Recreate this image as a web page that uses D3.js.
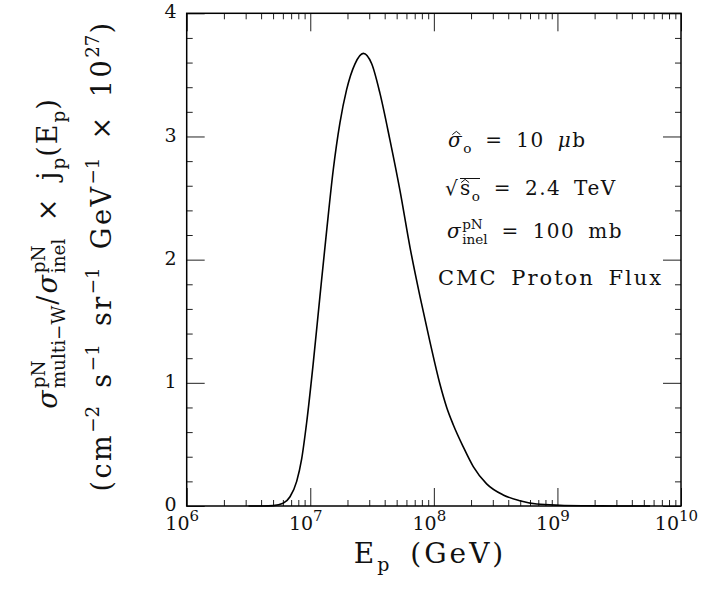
<!DOCTYPE html>
<html>
<head>
<meta charset="utf-8">
<script src="https://cdn.jsdelivr.net/npm/d3@7"></script>
<style>
  body { margin: 0; background: #fff; }
  svg { display: block; font-family: 'DejaVu Serif', serif; }
  text { white-space: pre; }
</style>
</head>
<body>
<div id="chart"></div>
<script>
// proton energy, log10(E/GeV)
const logEnergy = [6.50, 6.62, 6.70, 6.78, 6.836, 6.89, 6.93, 6.971, 7.024, 7.078, 7.133, 7.186,
  7.24, 7.294, 7.362, 7.429, 7.497, 7.564, 7.645, 7.726, 7.807, 7.888, 7.969, 8.049,
  8.104, 8.157, 8.238, 8.319, 8.427, 8.561, 8.696, 8.832, 9.02, 9.236, 9.449, 9.75];
// sigma_multi-W / sigma_inel x j_p(E_p), units of 1e-27
const flux = [0, 0, 0.003, 0.022, 0.075, 0.20, 0.38, 0.68, 1.16, 1.70, 2.24, 2.73,
  3.11, 3.38, 3.59, 3.675, 3.59, 3.35, 2.97, 2.56, 2.10, 1.70, 1.33, 0.99,
  0.80, 0.66, 0.48, 0.32, 0.18, 0.09, 0.043, 0.016, 0.006, 0.002, 0.0005, 0];

const xDecades = [1e6, 1e7, 1e8, 1e9, 1e10];
const yMajor = [0, 1, 2, 3, 4];

const W = 707, H = 600;
const margin = { left: 186.7, top: 13.3, right: 26, bottom: 94 };
const width = W - margin.left - margin.right;
const height = H - margin.top - margin.bottom;

const svg = d3.select('#chart').append('svg').attr('width', W).attr('height', H);
const g = svg.append('g').attr('transform', `translate(${margin.left},${margin.top})`);

const x = d3.scaleLog().domain([1e6, 1e10]).range([0, width]);
const y = d3.scaleLinear().domain([0, 4]).range([height, 0]);

const xMinor = [];
xDecades.slice(0, -1).forEach(d => { for (let k = 2; k <= 9; k++) xMinor.push(d * k); });
const yMinor = d3.range(0, 4.01, 0.2).filter(v => Math.abs(v - Math.round(v)) > 1e-6);

function styleAxis(sel) {
  sel.select('.domain').remove();
  sel.selectAll('line').attr('stroke', '#222').attr('stroke-width', 1);
}

// inward ticks on all four sides
g.append('g').attr('transform', `translate(0,${height})`)
  .call(d3.axisBottom(x).tickValues(xMinor).tickSize(-6).tickFormat('')).call(styleAxis);
g.append('g').call(d3.axisTop(x).tickValues(xMinor).tickSize(-6).tickFormat('')).call(styleAxis);
g.append('g').call(d3.axisTop(x).tickValues(xDecades).tickSize(-18).tickFormat('')).call(styleAxis);
const xMajAxis = g.append('g').attr('transform', `translate(0,${height})`)
  .call(d3.axisBottom(x).tickValues(xDecades).tickSize(-18).tickFormat(''))
  .call(styleAxis);

g.append('g').call(d3.axisLeft(y).tickValues(yMinor).tickSize(-6).tickFormat('')).call(styleAxis);
g.append('g').attr('transform', `translate(${width},0)`)
  .call(d3.axisRight(y).tickValues(yMinor).tickSize(-6).tickFormat('')).call(styleAxis);
g.append('g').attr('transform', `translate(${width},0)`)
  .call(d3.axisRight(y).tickValues(yMajor).tickSize(-18).tickFormat('')).call(styleAxis);
g.append('g')
  .call(d3.axisLeft(y).tickValues(yMajor).tickSize(-18).tickPadding(10).tickFormat(d3.format('d')))
  .call(styleAxis)
  .call(a => a.selectAll('text').attr('font-family', 'DejaVu Serif').attr('font-size', 19)
    .attr('fill', '#111').attr('dy', '0.24em'));

// decade labels 10^n
xMajAxis.selectAll('.tick text').each(function(d) {
  const t = d3.select(this).text('').attr('font-family', 'DejaVu Serif').attr('font-size', 19)
    .attr('fill', '#111').attr('dy', null).attr('y', 24).attr('x', -5).attr('text-anchor', 'middle');
  t.append('tspan').text('10');
  t.append('tspan').attr('dy', -9).attr('font-size', 15).text(Math.round(Math.log10(d)));
});

g.append('rect').attr('width', width).attr('height', height)
  .attr('fill', 'none').attr('stroke', '#000').attr('stroke-width', 1.5);

const line = d3.line()
  .x((d, i) => x(Math.pow(10, logEnergy[i])))
  .y(d => y(d))
  .curve(d3.curveMonotoneX);
g.append('path').datum(flux).attr('d', line)
  .attr('fill', 'none').attr('stroke', '#000').attr('stroke-width', 1.6);

// lays out base text with stacked super/subscripts, returns the group and width
function mathText(parent, parts, size, ls, ws) {
  const grp = parent.append('g');
  const small = size * 0.68;
  let cx = 0;
  parts.forEach(p => {
    const t = grp.append('text').attr('x', cx).attr('font-size', size)
      .attr('letter-spacing', ls).attr('word-spacing', ws || 0).attr('fill', '#111').text(p.b);
    if (p.it) t.attr('font-style', 'italic');
    const bw = t.node().getComputedTextLength();
    if (p.hat) {
      const hx = cx + (bw - ls) / 2 + (p.it ? 1.5 : 0);
      grp.append('path')
        .attr('d', `M${hx - size * 0.2},${-size * 0.62} L${hx},${-size * 0.78} L${hx + size * 0.2},${-size * 0.62}`)
        .attr('fill', 'none').attr('stroke', '#111').attr('stroke-width', 1);
    }
    cx += bw;
    let w = 0;
    if (p.sup) {
      const s = grp.append('text').attr('x', cx).attr('y', -size * 0.45).attr('font-size', small)
        .attr('fill', '#111').text(p.sup);
      w = s.node().getComputedTextLength();
    }
    if (p.sub) {
      const s = grp.append('text').attr('x', cx).attr('y', size * 0.28).attr('font-size', small)
        .attr('fill', '#111').text(p.sub);
      w = Math.max(w, s.node().getComputedTextLength());
    }
    cx += w + (w ? 1 : 0);
  });
  return { grp, width: cx };
}

// y axis title, two rotated lines
const yl1 = mathText(svg, [
  { b: 'σ', it: true, sup: 'pN', sub: 'multi−W' },
  { b: '/' },
  { b: 'σ', it: true, sup: 'pN', sub: 'inel' },
  { b: ' × j', sub: 'p' },
  { b: '(E', sub: 'p' },
  { b: ')' }
], 27, 2, 6);
yl1.grp.attr('transform', `translate(57,253) rotate(-90) translate(${-yl1.width / 2},0)`);

const yl2 = mathText(svg, [
  { b: '(cm', sup: '−2' },
  { b: ' s', sup: '−1' },
  { b: ' sr', sup: '−1' },
  { b: ' GeV', sup: '−1' },
  { b: ' × 10', sup: '27' },
  { b: ')' }
], 27, 2.5, 6);
yl2.grp.attr('transform', `translate(111,256) rotate(-90) translate(${-yl2.width / 2},0)`);

// x axis title
const xl = mathText(svg, [{ b: 'E', sub: 'p' }, { b: ' (GeV)' }], 28, 3, 8);
xl.grp.attr('transform', `translate(${430 - xl.width / 2},563)`);

// parameter notes
const a1 = mathText(svg, [{ b: 'σ', it: true, hat: true, sub: 'o' }, { b: ' = 10 ' }, { b: 'μ', it: true }, { b: 'b' }], 20, 1.5, 5);
a1.grp.attr('transform', 'translate(448,147)');

svg.append('text').attr('x', 445).attr('y', 195).attr('font-size', 20).attr('fill', '#111').text('√');
const a2 = mathText(svg, [{ b: 's', hat: true, sub: 'o' }, { b: ' = 2.4 TeV' }], 20, 1.5, 5);
a2.grp.attr('transform', 'translate(460,195)');
svg.append('line').attr('x1', 460).attr('x2', 480).attr('y1', 178.5).attr('y2', 178.5)
  .attr('stroke', '#111').attr('stroke-width', 1);

const a3 = mathText(svg, [{ b: 'σ', it: true, sup: 'pN', sub: 'inel' }, { b: ' = 100 mb' }], 20, 1.5, 5);
a3.grp.attr('transform', 'translate(447,238)');

const a4 = mathText(svg, [{ b: 'CMC Proton Flux' }], 21, 2, 5);
a4.grp.attr('transform', 'translate(438,285)');
</script>
</body>
</html>
